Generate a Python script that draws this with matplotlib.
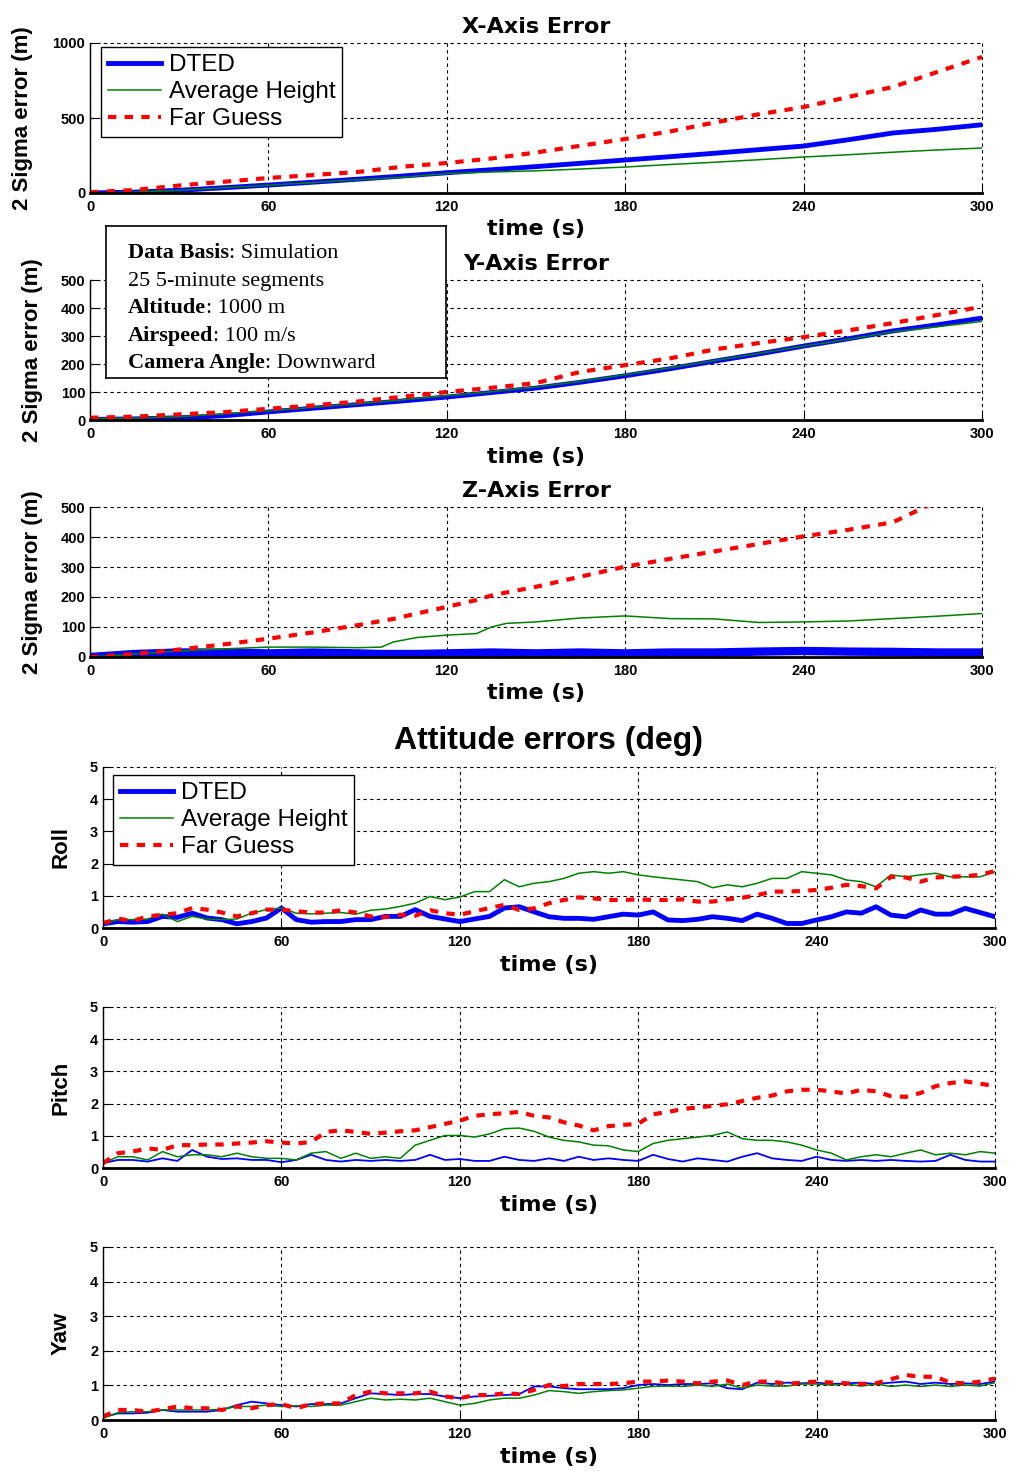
import matplotlib
matplotlib.use('Agg')
import numpy as np
import matplotlib.pyplot as plt
from matplotlib.patches import Rectangle

plt.rcParams['font.family'] = 'Liberation Sans'

# ---------------- data ----------------
series_names = ['DTED', 'Average Height', 'Far Guess']

t15 = [0, 15, 30, 45, 60, 75, 90, 105, 120, 135, 150, 165, 180, 195, 210, 225, 240, 255, 270, 285, 300]
x_dted = [0, 6, 18, 35, 53, 72, 92, 113, 135, 155, 176, 198, 220, 242, 265, 289, 313, 355, 400, 425, 455]
x_avg = [0, 6, 18, 35, 52, 70, 88, 105, 130, 140, 148, 160, 173, 190, 205, 222, 240, 255, 272, 287, 300]
x_far = [5, 20, 50, 75, 100, 120, 140, 175, 200, 230, 270, 315, 360, 410, 470, 525, 573, 640, 707, 807, 907]

y_dted = [2, 4, 8, 15, 29, 42, 55, 68, 82, 98, 114, 135, 158, 183, 210, 236, 264, 290, 318, 340, 364]
y_avg = [5, 7, 12, 22, 33, 45, 58, 72, 87, 101, 118, 138, 162, 186, 212, 238, 264, 288, 315, 333, 352]
y_far = [8, 12, 20, 28, 40, 52, 66, 83, 100, 115, 132, 172, 196, 220, 252, 275, 296, 320, 346, 375, 405]

tz = [0, 15, 30, 45, 60, 75, 90, 98, 102, 110, 120, 130, 135, 140, 150, 165, 180, 195, 210, 225, 240, 255, 270, 285, 300]
z_dted = [0, 10, 15, 15, 12, 15, 12, 10, 10, 10, 12, 14, 15, 14, 12, 15, 12, 15, 15, 18, 20, 18, 17, 15, 15]
z_avg = [0, 10, 20, 27, 33, 33, 31, 33, 50, 65, 73, 78, 100, 112, 117, 130, 137, 128, 127, 115, 117, 120, 128, 136, 145]
z_far = [0, 10, 25, 42, 61, 82, 106, 120, 127, 145, 167, 190, 205, 215, 234, 268, 301, 327, 352, 377, 402, 424, 449, 520, 580]

t5 = list(range(0, 301, 5))
roll_dted = [0.13, 0.2, 0.18, 0.2, 0.36, 0.33, 0.46, 0.31, 0.26, 0.13, 0.2, 0.31, 0.62,
             0.26, 0.18, 0.2, 0.2, 0.26, 0.26, 0.36, 0.36, 0.57, 0.36, 0.28, 0.2, 0.28, 0.36, 0.62,
             0.66, 0.5, 0.35, 0.3, 0.3, 0.27, 0.35, 0.43, 0.4, 0.5, 0.25, 0.23, 0.27, 0.35, 0.3, 0.23,
             0.43, 0.3, 0.14, 0.14, 0.25, 0.35, 0.5, 0.46, 0.66, 0.4, 0.35, 0.56, 0.43, 0.43, 0.61, 0.48, 0.35]
roll_avg = [0.13, 0.26, 0.26, 0.28, 0.43, 0.2, 0.36, 0.28, 0.26, 0.28, 0.46, 0.57, 0.62,
            0.46, 0.44, 0.46, 0.48, 0.43, 0.55, 0.59, 0.67, 0.77, 0.98, 0.88, 0.96, 1.13, 1.13, 1.5,
            1.28, 1.39, 1.44, 1.54, 1.7, 1.75, 1.7, 1.75, 1.65, 1.59, 1.54, 1.49, 1.44, 1.25, 1.34, 1.28,
            1.39, 1.54, 1.54, 1.75, 1.7, 1.65, 1.49, 1.44, 1.28, 1.65, 1.59, 1.65, 1.7, 1.59, 1.59, 1.59, 1.75]
roll_far = [0.15, 0.29, 0.22, 0.36, 0.41, 0.46, 0.62, 0.57, 0.48, 0.36, 0.46, 0.57, 0.57,
            0.52, 0.48, 0.48, 0.55, 0.48, 0.36, 0.34, 0.41, 0.38, 0.55, 0.46, 0.41, 0.52, 0.62, 0.72,
            0.56, 0.61, 0.77, 0.87, 0.95, 0.92, 0.87, 0.87, 0.89, 0.87, 0.87, 0.89, 0.82, 0.82, 0.89, 0.94,
            1.02, 1.13, 1.13, 1.15, 1.18, 1.25, 1.34, 1.3, 1.23, 1.59, 1.57, 1.44, 1.57, 1.59, 1.61, 1.65, 1.77]

pitch_dted = [0.15, 0.25, 0.25, 0.2, 0.3, 0.22, 0.56, 0.35, 0.28, 0.3, 0.25, 0.25, 0.18,
              0.25, 0.41, 0.25, 0.2, 0.25, 0.22, 0.25, 0.22, 0.25, 0.41, 0.25, 0.28, 0.22, 0.22, 0.35,
              0.25, 0.22, 0.3, 0.22, 0.35, 0.25, 0.3, 0.25, 0.22, 0.41, 0.28, 0.2, 0.3, 0.25, 0.2, 0.35,
              0.46, 0.3, 0.25, 0.22, 0.35, 0.25, 0.22, 0.25, 0.22, 0.25, 0.22, 0.2, 0.22, 0.41, 0.25, 0.2, 0.2]
pitch_avg = [0.15, 0.35, 0.35, 0.25, 0.51, 0.35, 0.41, 0.41, 0.35, 0.46, 0.35, 0.3, 0.3,
             0.25, 0.46, 0.51, 0.3, 0.46, 0.3, 0.35, 0.3, 0.71, 0.86, 1.01, 1.01, 0.96, 1.06, 1.22,
             1.24, 1.14, 0.96, 0.86, 0.81, 0.71, 0.69, 0.56, 0.51, 0.76, 0.86, 0.91, 0.96, 1.01, 1.12, 0.91,
             0.86, 0.86, 0.81, 0.71, 0.56, 0.46, 0.25, 0.35, 0.41, 0.35, 0.46, 0.56, 0.41, 0.46, 0.41, 0.51, 0.46]
pitch_far = [0.15, 0.46, 0.51, 0.61, 0.56, 0.71, 0.71, 0.73, 0.73, 0.76, 0.79, 0.83, 0.79,
             0.76, 0.81, 1.12, 1.17, 1.12, 1.06, 1.1, 1.14, 1.17, 1.27, 1.37, 1.47, 1.62, 1.67, 1.7,
             1.74, 1.62, 1.57, 1.42, 1.32, 1.17, 1.3, 1.34, 1.37, 1.67, 1.74, 1.83, 1.88, 1.93, 1.98, 2.08,
             2.18, 2.25, 2.38, 2.43, 2.43, 2.38, 2.31, 2.43, 2.38, 2.23, 2.21, 2.33, 2.54, 2.64, 2.69, 2.62, 2.54]

yaw_dted = [0.08, 0.19, 0.19, 0.21, 0.29, 0.24, 0.24, 0.24, 0.29, 0.43, 0.53, 0.48, 0.43,
            0.39, 0.46, 0.46, 0.48, 0.63, 0.77, 0.75, 0.72, 0.75, 0.75, 0.68, 0.63, 0.68, 0.7, 0.72,
            0.75, 0.97, 0.97, 0.92, 0.89, 0.89, 0.89, 0.92, 1.01, 1.04, 1.01, 1.04, 1.04, 1.06, 0.92, 0.89,
            1.08, 1.04, 1.08, 1.06, 1.08, 1.04, 1.06, 1.08, 1.04, 1.08, 1.11, 1.04, 1.08, 1.04, 1.06, 1.04, 1.11]
yaw_avg = [0.05, 0.21, 0.24, 0.24, 0.29, 0.29, 0.29, 0.29, 0.31, 0.39, 0.39, 0.43, 0.39,
           0.41, 0.39, 0.43, 0.43, 0.53, 0.63, 0.58, 0.6, 0.58, 0.63, 0.53, 0.43, 0.48, 0.58, 0.63,
           0.63, 0.72, 0.85, 0.82, 0.77, 0.82, 0.85, 0.87, 0.92, 0.97, 0.98, 0.97, 1.01, 0.97, 1.04, 0.92,
           1.01, 0.98, 0.98, 1.04, 1.04, 1.01, 1.04, 0.98, 1.04, 0.97, 1.01, 0.97, 1.01, 0.97, 1.01, 0.98, 1.08]
yaw_far = [0.1, 0.29, 0.29, 0.24, 0.31, 0.39, 0.34, 0.34, 0.29, 0.39, 0.34, 0.43, 0.46,
           0.34, 0.46, 0.48, 0.48, 0.72, 0.82, 0.77, 0.77, 0.77, 0.82, 0.68, 0.63, 0.72, 0.72, 0.77,
           0.75, 0.87, 1.01, 0.98, 1.04, 1.04, 1.04, 1.06, 1.11, 1.11, 1.14, 1.11, 1.06, 1.11, 1.14, 1.01,
           1.11, 1.11, 1.04, 1.08, 1.11, 1.08, 1.06, 1.04, 1.06, 1.18, 1.3, 1.25, 1.25, 1.08, 1.06, 1.11, 1.2]

info_lines = [('Data Basis', ': Simulation'), ('', '25 5-minute segments'),
              ('Altitude', ': 1000 m'), ('Airspeed', ': 100 m/s'), ('Camera Angle', ': Downward')]

# ---------------- figure ----------------
W, H = 1013, 1474
fig = plt.figure(figsize=(W / 100, H / 100), dpi=100)

def px_axes(left, right, top, bottom):
    return fig.add_axes([left / W, 1 - bottom / H, (right - left) / W, (bottom - top) / H])

def style(ax, ymax, ystep, ylabel, label_right_px, left_px):
    ax.set_xlim(0, 300)
    ax.set_ylim(0, ymax)
    ax.set_xticks(range(0, 301, 60))
    ax.set_yticks(np.arange(0, ymax + ystep / 2, ystep))
    ax.grid(True, color='black', linestyle=(0, (3, 3)), linewidth=0.8)
    for g in ax.get_xgridlines() + ax.get_ygridlines():
        g.set_clip_on(False)
    ax.spines['top'].set_visible(False)
    ax.spines['right'].set_visible(False)
    ax.spines['bottom'].set_linewidth(2)
    ax.spines['left'].set_linewidth(1)
    ax.tick_params(axis='x', direction='in', length=5, labelsize=10.5, pad=5)
    ax.tick_params(axis='y', direction='in', length=5, labelsize=10.5, pad=3.5)
    for lab in ax.get_xticklabels() + ax.get_yticklabels():
        lab.set_fontweight('bold')
    ax.set_xlabel('time (s)', fontsize=16, fontweight='bold', family='DejaVu Sans', labelpad=4)
    ax.set_ylabel(ylabel, fontsize=16, fontweight='bold')
    ax.yaxis.set_label_coords((label_right_px - left_px) / 892, 0.5)

def three_lines(ax, t, a, b, c, blue_lw):
    ax.plot(t, a, color='#0000ff', lw=blue_lw, label=series_names[0])
    ax.plot(t, b, color='#008000', lw=1.1, label=series_names[1])
    ax.plot(t, c, color='#ff0000', lw=3, linestyle=(0, (2, 2)), label=series_names[2])

def legend(ax, x_px, y_px):
    leg = ax.legend(loc='upper left', bbox_to_anchor=(x_px / W, 1 - y_px / H),
                    bbox_transform=fig.transFigure, fontsize=17.5, fancybox=False,
                    edgecolor='black', framealpha=1, borderaxespad=0, handlelength=2.15,
                    handletextpad=0.33, labelspacing=0.2, borderpad=0.3)
    leg.get_frame().set_linewidth(1)

def title(ax, text):
    ax.set_title(text, fontsize=16, fontweight='bold', family='DejaVu Sans', pad=7)

# X-axis error
ax1 = px_axes(90, 982, 43, 193)
three_lines(ax1, t15, x_dted, x_avg, x_far, 3.5)
style(ax1, 1000, 500, '2 Sigma error (m)', 33, 90)
title(ax1, 'X-Axis Error')
legend(ax1, 101, 47)

# Y-axis error
ax2 = px_axes(90, 982, 280, 420)
three_lines(ax2, t15, y_dted, y_avg, y_far, 3.5)
style(ax2, 500, 100, '2 Sigma error (m)', 43, 90)
title(ax2, 'Y-Axis Error')

# Z-axis error
ax3 = px_axes(90, 982, 507, 657)
three_lines(ax3, tz, z_dted, z_avg, z_far, 6)
style(ax3, 500, 100, '2 Sigma error (m)', 43, 90)
title(ax3, 'Z-Axis Error')

# attitude errors
fig.text(548 / W, 1 - 741 / H, 'Attitude errors (deg)', fontsize=23, fontweight='bold',
         ha='center', va='center')

ax4 = px_axes(103, 995, 767, 928)
three_lines(ax4, t5, roll_dted, roll_avg, roll_far, 3.5)
style(ax4, 5, 1, 'Roll', 72, 103)
legend(ax4, 113, 775)

ax5 = px_axes(103, 995, 1007, 1168)
three_lines(ax5, t5, pitch_dted, pitch_avg, pitch_far, 1.3)
style(ax5, 5, 1, 'Pitch', 72, 103)

ax6 = px_axes(103, 995, 1247, 1420)
three_lines(ax6, t5, yaw_dted, yaw_avg, yaw_far, 1.3)
style(ax6, 5, 1, 'Yaw', 72, 103)

# info box
tb = px_axes(106, 446, 226, 378)
tb.set_zorder(10)
tb.set_facecolor('white')
tb.set_xticks([])
tb.set_yticks([])
tb.set_xlim(0, 1)
tb.set_ylim(0, 1)
for s in tb.spines.values():
    s.set_linewidth(1.2)
clip = Rectangle((0, (378 - 369) / 152), 1, 1, transform=tb.transAxes)
baselines = [258, 286, 313, 341, 368]
for (key, val), yb in zip(info_lines, baselines):
    yy = (378 - yb) / 152
    if key:
        t_b = tb.text(22 / 340, yy, key, fontsize=16, fontweight='bold',
                      family='Liberation Serif', va='baseline', ha='left')
        t_b.set_clip_path(clip)
        t_r = tb.annotate(val, xy=(1, 0), xycoords=t_b, fontsize=16,
                          family='Liberation Serif', va='bottom', ha='left')
        t_r.set_clip_path(clip)
    else:
        t_r = tb.text(22 / 340, yy, val, fontsize=16, family='Liberation Serif',
                      va='baseline', ha='left')
        t_r.set_clip_path(clip)

fig.savefig('out.png', dpi=100)
